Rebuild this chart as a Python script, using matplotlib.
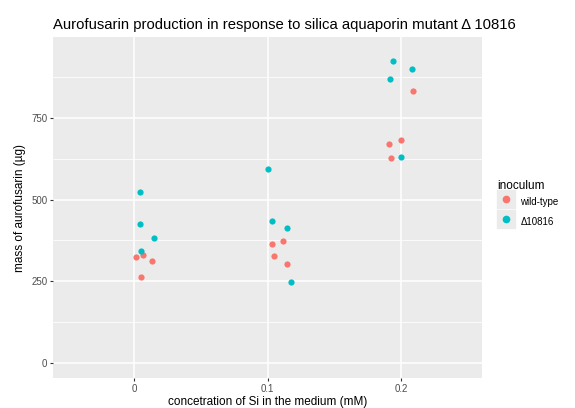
import matplotlib
matplotlib.use('Agg')
import matplotlib.pyplot as plt
from matplotlib.lines import Line2D
from matplotlib.legend_handler import HandlerTuple

plt.rcParams['font.family'] = ['Liberation Sans', 'DejaVu Sans']

# jittered points
wt_si = [0.0015, 0.0067, 0.0137, 0.0055, 0.1031, 0.1118, 0.1051, 0.1148, 0.2090, 0.2000, 0.1908, 0.1925]
wt_mass = [323, 330, 313, 262, 363, 374, 327, 304, 833, 682, 669, 628]
mut_si = [0.0043, 0.0043, 0.0147, 0.0050, 0.1001, 0.1034, 0.1146, 0.1176, 0.1938, 0.2080, 0.1920, 0.2002]
mut_mass = [523, 426, 384, 342, 593, 435, 414, 247, 923, 901, 870, 630]
groups = ['wild-type', 'Δ10816']
colors = ['#F8766D', '#00BFC4']

x_ticks = [0, 0.1, 0.2]
x_labels = ['0', '0.1', '0.2']
y_ticks = [0, 250, 500, 750]
y_minor = [125, 375, 625, 875]

fig = plt.figure(figsize = (5.75, 4.08), dpi = 100)
ax = fig.add_axes([53/575, 1 - 378/408, (482 - 53)/575, (378 - 37)/408])
ax.set_facecolor('#EBEBEB')

ax.scatter(wt_si, wt_mass, s = 20, color = colors[0], zorder = 3, linewidths = 0)
ax.scatter(mut_si, mut_mass, s = 20, color = colors[1], zorder = 3, linewidths = 0)

ax.set_xlim(-0.0607, 0.2607)
ax.set_ylim(-46, 998)
ax.set_xticks(x_ticks)
ax.set_xticklabels(x_labels)
ax.set_yticks(y_ticks)
ax.set_yticks(y_minor, minor = True)
ax.tick_params(axis = 'y', which = 'minor', length = 0)
ax.tick_params(which = 'major', length = 2.5, width = 0.8, color = '#333333',
               labelsize = 7, labelcolor = '#4D4D4D', pad = 1.5)
ax.grid(which = 'major', color = 'white', linewidth = 1.1)
ax.grid(which = 'minor', axis = 'y', color = 'white', linewidth = 0.55)
ax.set_axisbelow(True)
for s in ax.spines.values():
    s.set_visible(False)

ax.set_xlabel('concetration of Si in the medium (mM)', fontsize = 8.5, color = 'black', labelpad = 2)
ax.set_ylabel('mass of aurofusarin (µg)', fontsize = 8.5, color = 'black', labelpad = 4)
ax.set_title('Aurofusarin production in response to silica aquaporin mutant Δ 10816',
             fontsize = 10.7, loc = 'left', pad = 6)

# legend keys: grey square with the coloured dot on top
handles = [(Line2D([], [], marker = 's', linestyle = 'none', color = '#EBEBEB', markersize = 12.5),
            Line2D([], [], marker = 'o', linestyle = 'none', color = c, markersize = 4.5))
           for c in colors]
leg = ax.legend(handles, groups, title = 'inoculum', loc = 'upper left',
                bbox_to_anchor = (497/575, 1 - 180/408), bbox_transform = fig.transFigure,
                frameon = False, fontsize = 7, title_fontsize = 8.5,
                handler_map = {tuple: HandlerTuple(ndivide = 1)},
                handlelength = 1.9, handleheight = 2.45, handletextpad = 0.5,
                labelspacing = 0.15, borderpad = 0, borderaxespad = 0)
leg._legend_box.align = 'left'

fig.savefig('out.png', dpi = 100)
